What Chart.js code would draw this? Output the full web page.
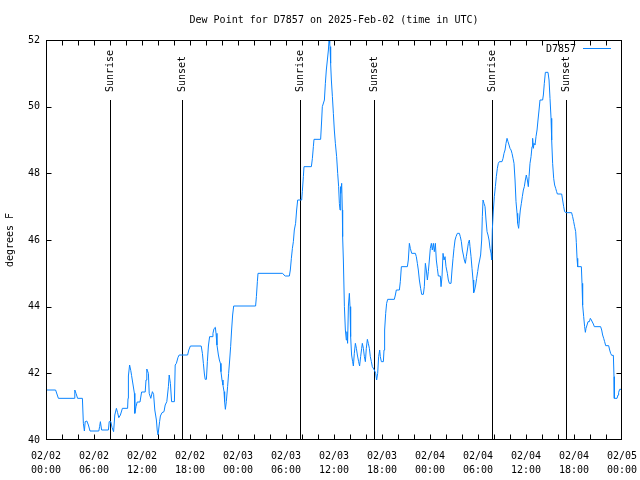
<!DOCTYPE html>
<html>
<head>
<meta charset="utf-8">
<script src="https://cdn.jsdelivr.net/npm/chart.js@4/dist/chart.umd.min.js"></script>
<style>
  html, body { margin: 0; padding: 0; background: #fff; }
  #wrap { width: 640px; height: 480px; }
</style>
</head>
<body>
<div id="wrap"><canvas id="dew" width="640" height="480"></canvas></div>
<script>
const chartTitle = 'Dew Point for D7857 on 2025-Feb-02 (time in UTC)';
const station = 'D7857';
const yTitle = 'degrees F';

// hours since 02/02 00:00 UTC
const hours = [
    0, 1.2, 1.55, 3.55, 3.6, 3.75, 3.95, 4.55, 4.67, 4.8,
    4.9, 5.1, 5.3, 5.5, 6.6, 6.7, 6.8, 6.95, 7.8, 7.9,
    8.1, 8.25, 8.45, 8.6, 8.8, 8.95, 9.1, 9.3, 9.55, 10.2,
    10.25, 10.3, 10.45, 10.6, 10.7, 11.05, 11.1, 11.25, 11.4, 11.75,
    11.95, 12.4, 12.5, 12.6, 12.8, 12.9, 13.1, 13.3, 13.45, 13.6,
    13.8, 13.9, 14.0, 14.2, 14.3, 14.5, 14.75, 14.9, 15.1, 15.3,
    15.4, 15.55, 15.7, 16.05, 16.15, 16.3, 16.5, 16.65, 17.7, 17.85,
    18.05, 19.4, 19.55, 19.67, 19.8, 19.9, 20.05, 20.17, 20.3, 20.45,
    20.75, 20.87, 21.0, 21.17, 21.25, 21.37, 21.55, 21.67, 21.8, 21.87,
    22.0, 22.12, 22.25, 22.33, 22.42, 22.54, 22.7, 22.83, 22.96, 23.08,
    23.2, 23.33, 23.46, 26.2, 26.3, 26.42, 26.5, 29.58, 29.75, 29.9,
    30.42, 30.54, 30.67, 30.8, 30.92, 31.04, 31.2, 31.33, 31.46, 31.96,
    32.04, 32.17, 32.25, 33.17, 33.3, 33.42, 33.5, 34.33, 34.46, 34.54,
    34.8, 34.92, 35.04, 35.17, 35.3, 35.38, 35.46, 35.5, 35.58, 35.67,
    35.8, 35.92, 36.04, 36.17, 36.33, 36.46, 36.58, 36.67, 36.75, 36.8,
    36.87, 36.96, 37.04, 37.08, 37.17, 37.3, 37.42, 37.54, 37.62, 37.7,
    37.8, 37.92, 38.0, 38.08, 38.2, 38.33, 38.42, 38.54, 38.67, 38.8,
    38.92, 39.08, 39.2, 39.33, 39.46, 39.54, 39.67, 39.8, 39.92, 40.04,
    40.17, 40.29, 40.42, 40.54, 40.67, 40.79, 41.04, 41.21, 41.33, 41.46,
    41.58, 41.71, 41.79, 41.92, 42.17, 42.25, 42.33, 42.46, 42.58, 42.71,
    43.54, 43.67, 43.79, 44.17, 44.29, 44.42, 45.17, 45.29, 45.42, 45.54,
    45.71, 46.17, 46.29, 46.42, 46.54, 46.67, 46.83, 46.96, 47.17, 47.29,
    47.42, 47.54, 47.67, 47.79, 47.92, 48.04, 48.17, 48.29, 48.42, 48.54,
    48.67, 48.79, 48.92, 49.04, 49.29, 49.38, 49.5, 49.63, 49.75, 49.88,
    50.0, 50.17, 50.29, 50.42, 50.63, 50.75, 50.88, 51.0, 51.13, 51.25,
    51.42, 51.67, 51.79, 51.92, 52.04, 52.17, 52.29, 52.42, 52.54, 52.67,
    52.79, 52.92, 53.0, 53.13, 53.25, 53.38, 53.46, 53.58, 53.71, 53.83,
    53.96, 54.08, 54.21, 54.33, 54.46, 54.54, 54.63, 54.75, 54.88, 55.0,
    55.13, 55.25, 55.38, 55.5, 55.63, 55.71, 55.79, 55.92, 56.04, 56.17,
    56.29, 56.42, 56.54, 56.67, 57.0, 57.13, 57.25, 57.38, 57.5, 57.63,
    57.75, 57.88, 58.0, 58.13, 58.25, 58.38, 58.5, 58.63, 58.75, 58.88,
    58.96, 59.08, 59.17, 59.29, 59.42, 59.54, 59.67, 59.79, 59.92, 60.04,
    60.17, 60.29, 60.38, 60.5, 60.63, 60.75, 60.83, 60.92, 61.0, 61.13,
    61.25, 61.38, 61.5, 61.63, 61.75, 62.08, 62.17, 62.29, 62.42, 62.75,
    62.88, 63.0, 63.13, 63.21, 63.33, 63.46, 63.58, 63.71, 63.83, 63.92,
    64.46, 64.58, 64.71, 64.83, 65.0, 65.7, 65.83, 65.96, 66.08, 66.21,
    66.29, 66.38, 66.46, 66.92, 67.0, 67.08, 67.21, 67.33, 67.42, 67.5,
    67.63, 67.75, 67.92, 68.04, 68.17, 68.29, 68.42, 68.54, 69.33, 69.46,
    69.58, 69.71, 69.83, 69.96, 70.33, 70.46, 70.58, 70.71, 70.92, 71.0,
    71.04, 71.38, 71.5, 71.58, 71.71, 71.88
];

const dewF = [
    41.5, 41.5, 41.25, 41.25, 41.5, 41.4, 41.25, 41.25, 40.5, 40.27,
    40.55, 40.57, 40.45, 40.27, 40.27, 40.4, 40.55, 40.3, 40.3, 40.55,
    40.55, 40.38, 40.25, 40.75, 40.95, 40.82, 40.67, 40.75, 40.95, 40.95,
    41.25, 41.92, 42.25, 42.08, 41.93, 41.4, 40.8, 41.0, 41.14, 41.14,
    41.44, 41.44, 41.8, 42.13, 42.0, 41.4, 41.25, 41.45, 41.37, 40.9,
    40.6, 40.3, 40.15, 40.55, 40.72, 40.82, 40.85, 41.05, 41.15, 41.6,
    41.95, 41.7, 41.15, 41.15, 42.25, 42.3, 42.48, 42.55, 42.55, 42.7,
    42.82, 42.82, 42.6, 42.3, 41.98, 41.82, 41.82, 42.35, 42.82, 43.1,
    43.1, 43.2, 43.34, 43.38, 43.2, 42.85, 42.55, 42.4, 42.3, 42.05,
    41.8, 41.65, 41.45, 41.15, 40.92, 41.15, 41.6, 42.0, 42.4, 42.8,
    43.3, 43.75, 44.02, 44.02, 44.3, 44.75, 45.0, 45.0, 44.95, 44.92,
    44.92, 45.1, 45.45, 45.75, 45.95, 46.3, 46.5, 46.9, 47.2, 47.2,
    47.45, 47.9, 48.2, 48.2, 48.45, 48.8, 49.02, 49.02, 49.6, 50.0,
    50.2, 50.7, 51.1, 51.4, 51.7, 52.0, 51.9, 51.8, 51.3, 50.8,
    50.3, 49.8, 49.3, 48.9, 48.5, 48.0, 47.6, 47.1, 46.9, 47.6,
    47.4, 47.7, 46.9, 46.1, 45.4, 44.0, 43.3, 43.0, 43.25, 42.9,
    44.02, 44.4, 44.0, 43.1, 42.55, 42.35, 42.22, 42.6, 42.9, 42.75,
    42.55, 42.35, 42.22, 42.5, 42.75, 42.9, 42.75, 42.5, 42.35, 42.75,
    43.02, 42.9, 42.75, 42.5, 42.35, 42.2, 42.1, 42.0, 41.8, 42.0,
    42.5, 42.7, 42.5, 42.35, 42.35, 42.7, 43.3, 43.8, 44.1, 44.22,
    44.22, 44.35, 44.5, 44.5, 44.75, 45.2, 45.2, 45.4, 45.9, 45.75,
    45.6, 45.6, 45.5, 45.3, 45.1, 44.8, 44.55, 44.37, 44.37, 44.6,
    45.3, 45.1, 44.8, 45.05, 45.4, 45.75, 45.9, 45.7, 45.9, 45.65,
    45.9, 45.4, 45.15, 44.92, 44.92, 44.6, 44.9, 45.6, 45.4, 45.5,
    45.2, 45.0, 44.8, 44.7, 44.7, 45.1, 45.45, 45.75, 46.0, 46.1,
    46.2, 46.2, 46.1, 45.95, 45.7, 45.55, 45.4, 45.3, 45.5, 45.7,
    45.9, 46.0, 45.8, 45.5, 45.15, 44.8, 44.42, 44.5, 44.65, 44.85,
    45.05, 45.25, 45.4, 45.55, 46.0, 46.7, 47.2, 47.1, 47.0, 46.6,
    46.25, 46.15, 46.0, 45.75, 45.6, 45.4, 46.3, 46.9, 47.3, 47.6,
    47.9, 48.15, 48.3, 48.35, 48.35, 48.45, 48.6, 48.7, 48.9, 49.05,
    48.95, 48.85, 48.75, 48.7, 48.6, 48.45, 48.3, 47.8, 47.15, 46.8,
    46.5, 46.35, 46.6, 46.9, 47.1, 47.3, 47.5, 47.6, 47.8, 47.95,
    47.8, 47.6, 47.9, 48.3, 48.5, 48.8, 49.05, 48.75, 48.9, 48.85,
    49.1, 49.3, 49.6, 49.9, 50.2, 50.2, 50.35, 50.7, 51.03, 51.03,
    50.8, 50.25, 49.65, 49.0, 48.3, 47.85, 47.65, 47.55, 47.45, 47.38,
    47.38, 47.2, 47.0, 46.85, 46.82, 46.82, 46.7, 46.55, 46.4, 46.25,
    45.93, 45.45, 45.2, 45.2, 44.7, 44.05, 43.7, 43.4, 43.23, 43.35,
    43.45, 43.55, 43.55, 43.65, 43.6, 43.54, 43.48, 43.4, 43.4, 43.3,
    43.15, 43.05, 42.95, 42.83, 42.83, 42.7, 42.6, 42.54, 42.54, 41.9,
    41.25, 41.25, 41.35, 41.43, 41.52, 41.52
];

// sunrise / sunset markers, hours since 02/02 00:00
const sunHours = [8, 17, 31.75, 41, 55.75, 65];
const sunLabels = ['Sunrise', 'Sunset', 'Sunrise', 'Sunset', 'Sunrise', 'Sunset'];

// x tick labels every 6 h
const dayLabels = ['02/02', '02/02', '02/02', '02/02', '02/03', '02/03', '02/03', '02/03', '02/04', '02/04', '02/04', '02/04', '02/05'];
const timeLabels = ['00:00', '06:00', '12:00', '18:00', '00:00', '06:00', '12:00', '18:00', '00:00', '06:00', '12:00', '18:00', '00:00'];

const lineColor = '#0a84ff';
const mono = '"DejaVu Sans Mono", "Liberation Mono", monospace';

const gnuplotLook = {
    id: 'gnuplotLook',
    beforeDatasetsDraw(chart) {
        const { ctx, chartArea, scales } = chart;
        const top = Math.round(scales.y.getPixelForValue(50.2));
        ctx.save();
        ctx.strokeStyle = '#000';
        ctx.lineWidth = 1;
        ctx.fillStyle = '#000';
        ctx.font = '10px ' + mono;
        sunHours.forEach((h, i) => {
            const px = Math.round(scales.x.getPixelForValue(h)) + 0.5;
            ctx.beginPath();
            ctx.moveTo(px, top);
            ctx.lineTo(px, chartArea.bottom);
            ctx.stroke();
            ctx.save();
            ctx.translate(px, top - 8);
            ctx.rotate(-Math.PI / 2);
            ctx.textAlign = 'left';
            ctx.textBaseline = 'middle';
            ctx.fillText(sunLabels[i], 0, 0);
            ctx.restore();
        });
        ctx.restore();
    },
    afterDraw(chart) {
        const { ctx, chartArea, scales } = chart;
        const l = Math.round(chartArea.left) + 0.5;
        const r = Math.round(chartArea.right) - 0.5;
        const t = Math.round(chartArea.top) + 0.5;
        const b = Math.round(chartArea.bottom) - 0.5;
        ctx.save();
        ctx.strokeStyle = '#000';
        ctx.lineWidth = 1;
        ctx.strokeRect(l, t, r - l, b - t);

        // inward ticks, mirrored
        ctx.beginPath();
        for (let h = 2; h < 72; h += 2) {
            const px = Math.round(scales.x.getPixelForValue(h)) + 0.5;
            ctx.moveTo(px, b); ctx.lineTo(px, b - 5);
            ctx.moveTo(px, t); ctx.lineTo(px, t + 5);
        }
        for (let v = 42; v < 52; v += 2) {
            const py = Math.round(scales.y.getPixelForValue(v)) + 0.5;
            ctx.moveTo(l, py); ctx.lineTo(l + 5, py);
            ctx.moveTo(r, py); ctx.lineTo(r - 5, py);
        }
        ctx.stroke();

        ctx.fillStyle = '#000';
        ctx.font = '10px ' + mono;
        ctx.textBaseline = 'middle';

        // title
        ctx.textAlign = 'center';
        ctx.fillText(chartTitle, (chartArea.left + chartArea.right) / 2, 20);

        // y title
        ctx.save();
        ctx.translate(10, (chartArea.top + chartArea.bottom) / 2);
        ctx.rotate(-Math.PI / 2);
        ctx.fillText(yTitle, 0, 0);
        ctx.restore();

        // key
        ctx.textAlign = 'right';
        ctx.fillText(station, 576, 49);
        ctx.strokeStyle = lineColor;
        ctx.beginPath();
        ctx.moveTo(583, 48.5);
        ctx.lineTo(611, 48.5);
        ctx.stroke();
        ctx.restore();
    }
};

new Chart(document.getElementById('dew'), {
    type: 'line',
    data: {
        datasets: [{
            label: station,
            data: hours.map((h, i) => ({ x: h, y: dewF[i] })),
            borderColor: lineColor,
            borderWidth: 1,
            pointRadius: 0,
            tension: 0,
            fill: false
        }]
    },
    options: {
        responsive: false,
        animation: false,
        devicePixelRatio: 1,
        layout: { padding: { top: 40, right: 18, left: 0, bottom: 0 } },
        plugins: {
            legend: { display: false },
            tooltip: { enabled: false }
        },
        scales: {
            x: {
                type: 'linear',
                min: 0,
                max: 72,
                grid: { display: false, drawTicks: false },
                border: { display: false },
                ticks: {
                    stepSize: 6,
                    autoSkip: false,
                    maxRotation: 0,
                    padding: 9,
                    color: '#000',
                    font: { family: mono, size: 10, lineHeight: 1.4 },
                    callback: v => [dayLabels[v / 6], timeLabels[v / 6]]
                },
                afterFit: s => {
                    s.height = 40;
                    s.paddingLeft = 0;
                    s.paddingRight = 0;
                }
            },
            y: {
                min: 40,
                max: 52,
                grid: { display: false, drawTicks: false },
                border: { display: false },
                ticks: {
                    stepSize: 2,
                    padding: 6,
                    color: '#000',
                    font: { family: mono, size: 10 }
                },
                afterFit: s => {
                    s.width = 46;
                    s.paddingTop = 0;
                    s.paddingBottom = 0;
                }
            }
        }
    },
    plugins: [gnuplotLook]
});
</script>
</body>
</html>
